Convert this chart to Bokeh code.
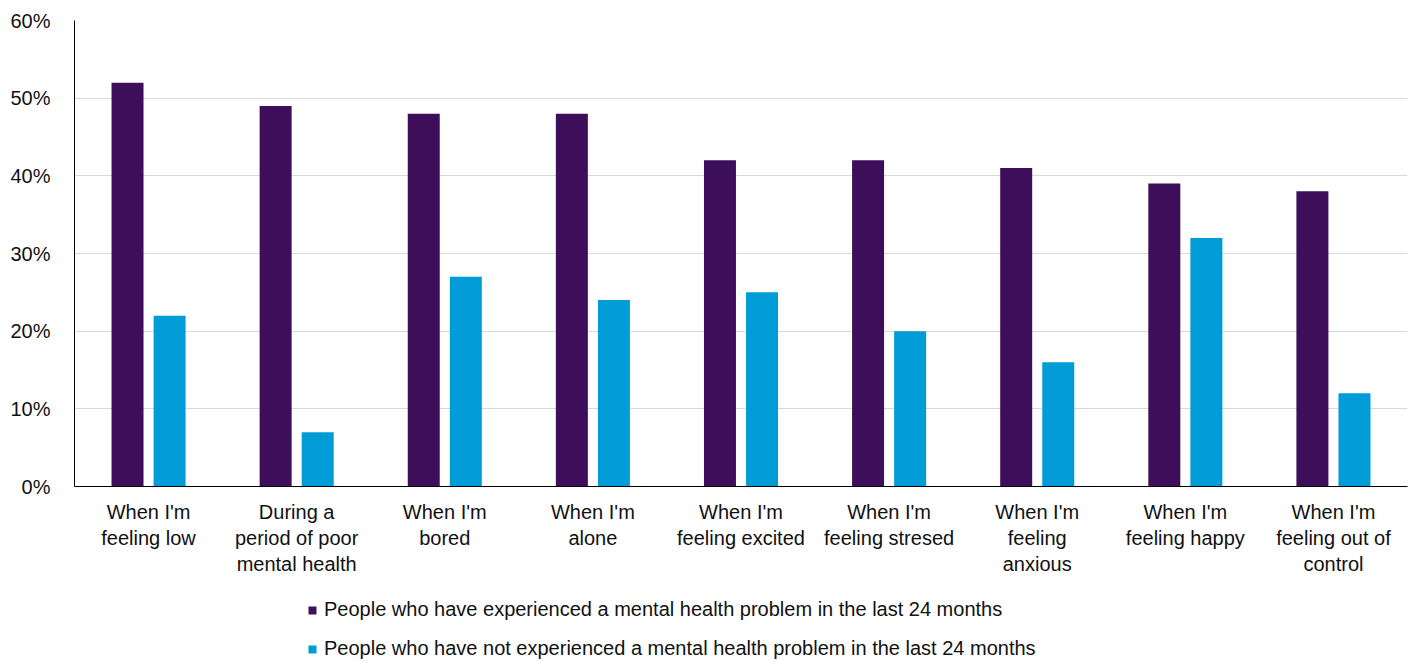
from bokeh.plotting import figure
from bokeh.layouts import column
from bokeh.models import FactorRange, Legend, LegendItem, FixedTicker, PrintfTickFormatter, ColumnDataSource, Range1d
from bokeh.transform import dodge
from bokeh.embed import file_html
from bokeh.resources import INLINE

# category labels (line breaks as in the reference's wrapped tick labels)
categories = ["When I'm\nfeeling low", "During a\nperiod of poor\nmental health", "When I'm\nbored",
              "When I'm\nalone", "When I'm\nfeeling excited", "When I'm\nfeeling stresed",
              "When I'm\nfeeling\nanxious", "When I'm\nfeeling happy", "When I'm\nfeeling out of\ncontrol"]
experienced = [52, 49, 48, 48, 42, 42, 41, 39, 38]
not_experienced = [22, 7, 27, 24, 25, 20, 16, 32, 12]
series_names = ["People who have experienced a mental health problem in the last 24 months",
                "People who have not experienced a mental health problem in the last 24 months"]
y_ticks = [0, 10, 20, 30, 40, 50, 60]

PURPLE = "#3d0f5a"
BLUE = "#009cd8"
FONT = "Liberation Sans"
TXT = "#111111"

src = ColumnDataSource(dict(cat=categories, a=experienced, b=not_experienced))

p = figure(width=1417, height=591, x_range=FactorRange(*categories, range_padding=0),
           y_range=(0, 60), output_backend="svg", toolbar_location=None,
           min_border_left=74, min_border_right=10, min_border_top=20, min_border_bottom=105)
p.outline_line_color = None

r1 = p.vbar(x=dodge("cat", -0.142, range=p.x_range), top="a", width=0.216, source=src,
            fill_color=PURPLE, line_color=None)
r2 = p.vbar(x=dodge("cat", 0.142, range=p.x_range), top="b", width=0.216, source=src,
            fill_color=BLUE, line_color=None)

p.xgrid.grid_line_color = None
p.ygrid.grid_line_color = "#d9d9d9"
p.ygrid.grid_line_width = 1
p.yaxis.ticker = FixedTicker(ticks=y_ticks)
p.yaxis.formatter = PrintfTickFormatter(format="%d%%")
for ax in (p.xaxis[0], p.yaxis[0]):
    ax.axis_line_color = "#000000"
    ax.axis_line_width = 1
    ax.major_tick_line_color = None
    ax.minor_tick_line_color = None
    ax.major_label_text_font = FONT
    ax.major_label_text_font_size = "20px"
    ax.major_label_text_color = TXT
p.yaxis.major_label_standoff = 18
p.xaxis.major_label_standoff = 8

# legend strip below the chart (its own bars lie outside its visible y range)
p2 = figure(width=1417, height=70, output_backend="svg", toolbar_location=None,
            x_range=FactorRange(*categories, range_padding=0), y_range=Range1d(1000, 1001),
            x_axis_type=None, y_axis_type=None,
            min_border_left=0, min_border_right=0, min_border_top=0, min_border_bottom=0)
p2.outline_line_color = None
p2.xgrid.visible = False
p2.ygrid.visible = False
k1 = p2.vbar(x="cat", top="a", width=0.216, source=src, fill_color=PURPLE, line_color=None)
k2 = p2.vbar(x="cat", top="b", width=0.216, source=src, fill_color=BLUE, line_color=None)

legend = Legend(items=[LegendItem(label=series_names[0], renderers=[k1]),
                       LegendItem(label=series_names[1], renderers=[k2])],
                orientation="vertical", location=(233, 1),
                label_text_font=FONT, label_text_font_size="20px", label_text_color=TXT,
                glyph_width=10, glyph_height=10, spacing=16, padding=0, margin=0,
                border_line_color=None, background_fill_alpha=0, label_standoff=7)
p2.add_layout(legend, "center")

open("out.html", "w").write(file_html(column(p, p2), INLINE))
